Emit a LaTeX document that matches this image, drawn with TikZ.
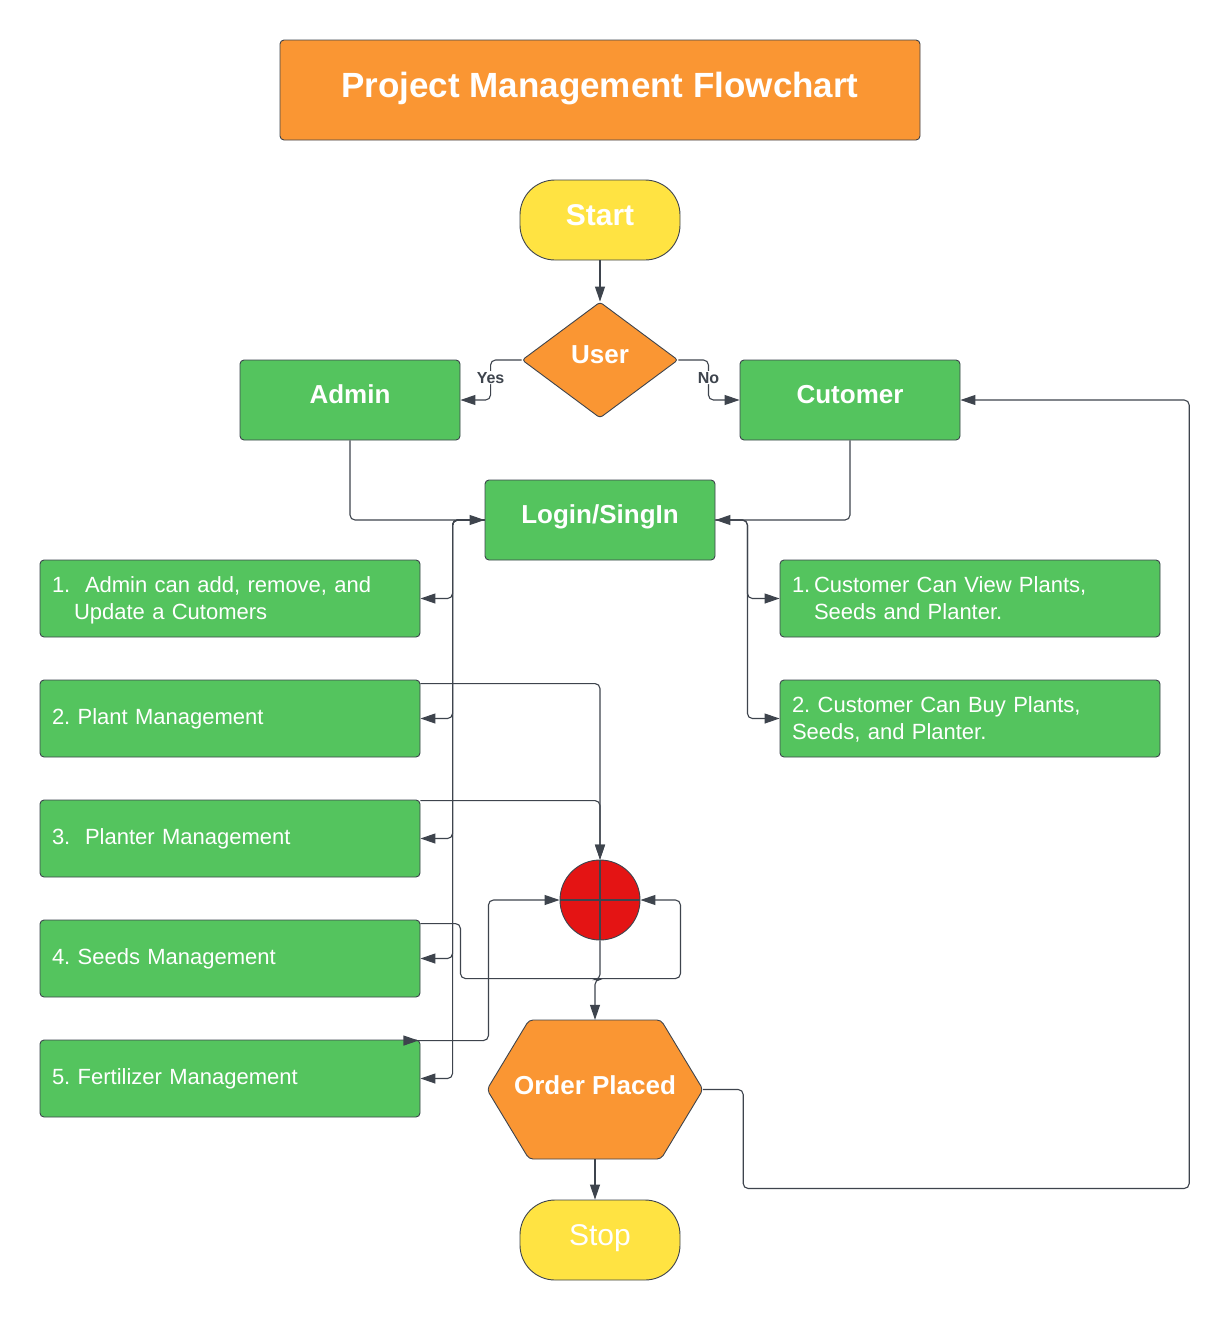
\documentclass[tikz,border=0pt]{standalone}
\usepackage{fontspec}
\setmainfont{Liberation Sans}
\usetikzlibrary{arrows.meta,shapes.geometric}

\definecolor{pmorange}{HTML}{FA9633}
\definecolor{pmgreen}{HTML}{54C45E}
\definecolor{pmyellow}{HTML}{FFE342}
\definecolor{pmred}{HTML}{E41414}
\definecolor{pmwire}{HTML}{3E444D}

\tikzset{
  edge/.style={draw=pmwire, line width=0.9pt},
  titlebox/.style={edge, fill=pmorange, rounded corners=4pt, minimum width=640pt, minimum height=100pt,
    text=white, font=\fontsize{35}{42}\selectfont\bfseries, text height=26pt, text depth=12pt},
  terminal/.style={edge, fill=pmyellow, rounded corners=35pt, minimum width=160pt, minimum height=80pt,
    text=white, text height=22pt, text depth=12pt},
  stepbox/.style={edge, fill=pmgreen, rounded corners=4pt, minimum height=80pt,
    text=white, font=\fontsize{26}{31}\selectfont\bfseries, text height=19pt, text depth=12pt},
  itembox/.style={edge, fill=pmgreen, rounded corners=4pt, minimum height=77pt, text width=356pt,
    inner xsep=12pt, align=left, text=white, font=\fontsize{22}{27}\selectfont},
  twoline/.style={text depth=27.5pt},
  decision/.style={edge, fill=pmorange, diamond, rounded corners=3pt, aspect=1.34, minimum width=156pt,
    minimum height=116pt, inner sep=0pt, text=white, font=\fontsize{26}{31}\selectfont\bfseries},
  flow/.style={draw=pmwire, line width=1.1pt, rounded corners=5pt, -{Triangle[length=15pt,width=10pt]}},
  answer/.style={fill=white, inner sep=1pt, text=pmwire, font=\fontsize{16}{19}\selectfont\bfseries}
}

\begin{document}
\frenchspacing
\begin{tikzpicture}[x=1pt, y=-1pt]
% Set the page
\useasboundingbox (0,0) rectangle (1231,1320);
\fill[white] (0,0) rectangle (1231,1320);

% Draw the title, start and first decision
\node[titlebox] (title) at (600,90) {Project Management Flowchart};
\node[terminal, font=\fontsize{30}{36}\selectfont\bfseries] (start) at (600,220) {Start};
\node[decision, text height=19pt, text depth=13pt] (user) at (600,360) {User};
\node[stepbox, minimum width=220pt] (admin) at (350,400) {Admin};
\node[stepbox, minimum width=220pt] (cust) at (850,400) {Cutomer};
\node[stepbox, minimum width=230pt] (login) at (600,520) {Login/SingIn};

% Draw the admin tasks
\node[itembox, twoline] (adm1) at (230,598.5) {1.\ \ Admin can add, remove, and\\\hspace*{22pt}Update a Cutomers};
\node[itembox] (adm2) at (230,718.5) {2. Plant Management};
\node[itembox] (adm3) at (230,838.5) {3.\ \ Planter Management};
\node[itembox] (adm4) at (230,958.5) {4. Seeds Management};
\node[itembox] (adm5) at (230,1078.5) {5. Fertilizer Management};

% Draw the customer tasks
\node[itembox, twoline] (cus1) at (970,598.5) {1.\,Customer Can View Plants,\\\hspace*{22pt}Seeds and Planter.};
\node[itembox, twoline] (cus2) at (970,718.5) {2. Customer Can Buy Plants,\\Seeds, and Planter.};

% Draw the junction, order and stop
\node[edge, circle, fill=pmred, minimum size=80pt, inner sep=0pt] (junct) at (600,900) {};
\draw[pmwire, line width=1.1pt] (junct.north) -- (junct.south) (junct.west) -- (junct.east);
\filldraw[edge, fill=pmorange, rounded corners=4pt] (487,1089.5) -- (529,1020) -- (661,1020)
  -- (703,1089.5) -- (661,1159) -- (529,1159) -- cycle;
\node[minimum width=216pt, minimum height=139pt, inner sep=0pt, text=white,
  font=\fontsize{26}{31}\selectfont\bfseries, text height=19pt, text depth=10pt] (order) at (595,1089.5) {Order Placed};
\node[terminal, font=\fontsize{30}{36}\selectfont] (stop) at (600,1240) {Stop};

% Connect the top part
\draw[flow] (start) -- (user);
\draw[flow] (user.west) -- ++(-31,0) |- node[answer, pos=0.22] {Yes} (admin.east);
\draw[flow] (user.east) -- ++(30,0) |- node[answer, pos=0.22] {No} (cust.west);
\draw[flow] (admin.south) |- (login.west);
\draw[flow] (cust.south) |- (login.east);

% Connect the task lists
\foreach \task in {adm1,adm2,adm3,adm4,adm5}
  \draw[flow] (login.west) -- ++(-32,0) |- (\task.east);
\foreach \task in {cus1,cus2}
  \draw[flow] (login.east) -- ++(32,0) |- (\task.west);

% Connect the tasks to the junction
\draw[flow] ([yshift=-4pt]adm2.north east) -| (junct.north);
\draw[flow] ([yshift=-1pt]adm3.north east) -| (junct.north);
\draw[flow] ([yshift=-4pt]adm4.north east) -- ++(40,0) -- ++(0,55) -- ++(220,0) |- (junct.east);
\draw[flow, {Triangle[length=15pt,width=10pt,reversed]}-{Triangle[length=15pt,width=10pt]}, shorten <=-17pt]
  ([yshift=-1pt]adm5.north east) -- ++(68,0) |- (junct.west);
\draw[flow] (junct.south) -- ++(0,39) -| (order.north);
\draw[flow] (order.south) -- (order.south |- stop.north);
\draw[flow] (order.east) -- ++(40,0) -- ++(0,99) -- ++(446,0) |- (cust.east);
\end{tikzpicture}
\end{document}
